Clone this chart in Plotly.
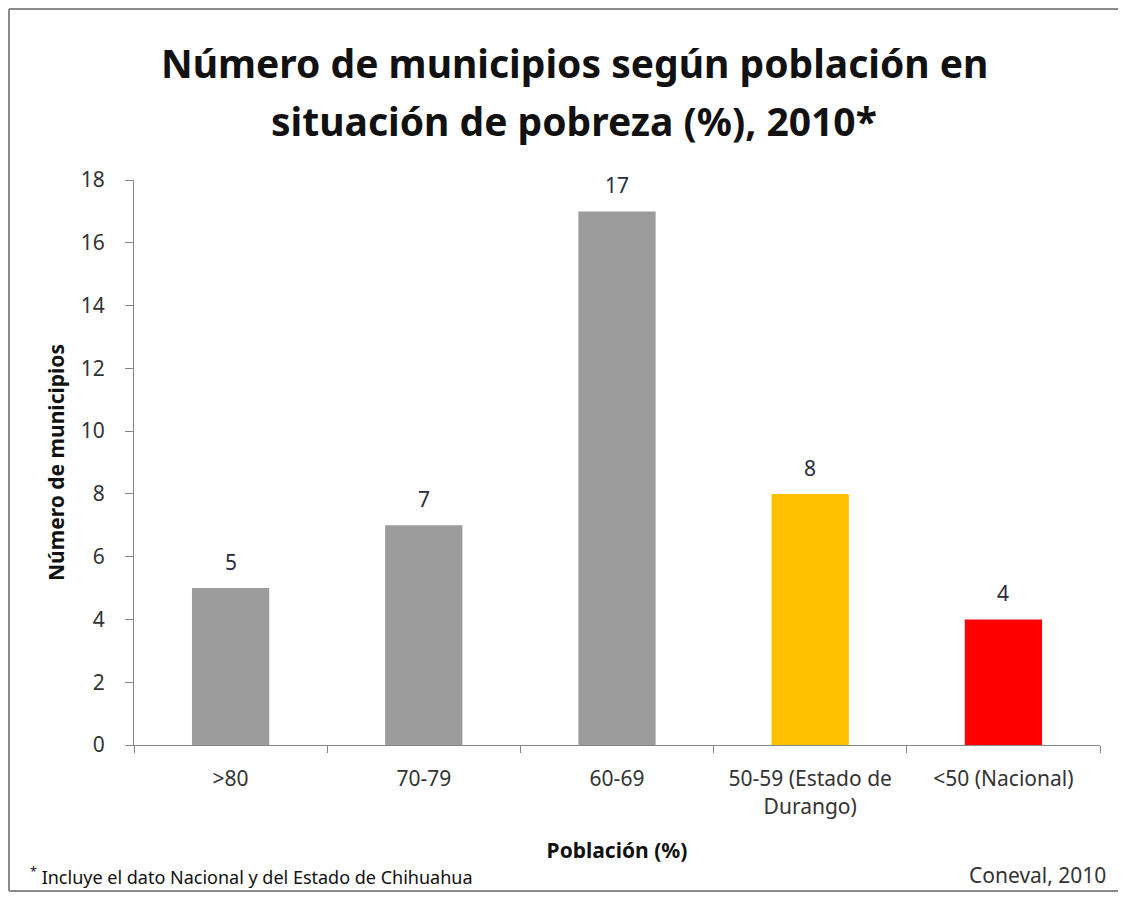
import plotly.graph_objects as go

categories = [">80", "70-79", "60-69", "50-59 (Estado de<br>Durango)", "<50 (Nacional)"]
values = [5, 7, 17, 8, 4]
colors = ["#9c9c9c", "#9c9c9c", "#9c9c9c", "#ffc000", "#ff0000"]
y_ticks = [0, 2, 4, 6, 8, 10, 12, 14, 16, 18]
title_lines = ["Número de municipios según población en", "situación de pobreza (%), 2010*"]

FONT = "Noto Sans"

# figure is placed at page offset (8, 8) by the body margin
W, H = 1110, 884
L, R, T, B = 126, 18, 172, 147
pw, ph = W - L - R, H - T - B


def px_x(p):
    return (p - L) / pw


def px_y(p):
    return (H - B - p) / ph


fig = go.Figure()
fig.add_trace(go.Bar(
    x=categories, y=values,
    marker=dict(color=colors, line=dict(width=0)),
    showlegend=False,
))

# value labels above bars
for c, v in zip(categories, values):
    fig.add_annotation(
        x=c, y=v, text=str(v), showarrow=False,
        xanchor="center", yanchor="middle", yshift=26,
        font=dict(family=FONT, size=21, color="#2b2b3b"),
    )

fig.update_layout(
    width=W, height=H,
    margin=dict(l=L, r=R, t=T, b=B),
    paper_bgcolor="white", plot_bgcolor="white",
    bargap=0.6,
    xaxis=dict(
        showline=True, linecolor="#868686", linewidth=1,
        ticks="outside", tickson="boundaries", ticklen=7, tickcolor="#868686",
        ticklabelstandoff=15,
        tickfont=dict(family=FONT, size=21, color="#333333"),
        title=dict(text="Población (%)", font=dict(family=FONT, size=21, color="#111111", weight="bold"), standoff=24),
        showgrid=False,
    ),
    yaxis=dict(
        range=[0, 18], tickvals=y_ticks,
        showline=True, linecolor="#868686", linewidth=1,
        ticks="outside", ticklen=8, tickcolor="#868686",
        ticklabelstandoff=16,
        tickfont=dict(family=FONT, size=21, color="#333333"),
        title=dict(text="Número de municipios", font=dict(family=FONT, size=21, color="#111111", weight="bold"), standoff=10),
        showgrid=False, zeroline=False,
    ),
)

# title as two lines
for line, ypx in zip(title_lines, [54, 112]):
    fig.add_annotation(
        text=line, xref="paper", yref="paper", x=px_x(566), y=px_y(ypx),
        xanchor="center", yanchor="middle", showarrow=False,
        font=dict(family=FONT, size=39, color="#111111", weight="bold"),
    )

# outer frame (top, left, bottom)
frame = dict(color="#8a8a8a", width=2)
fig.add_shape(type="line", xref="paper", yref="paper", x0=px_x(1), x1=px_x(W), y0=px_y(1), y1=px_y(1), line=frame)
fig.add_shape(type="line", xref="paper", yref="paper", x0=px_x(1), x1=px_x(1), y0=px_y(1), y1=px_y(H - 1), line=frame)
fig.add_shape(type="line", xref="paper", yref="paper", x0=px_x(1), x1=px_x(W), y0=px_y(H - 1), y1=px_y(H - 1), line=frame)

fig.add_annotation(
    text="<sup>*</sup> Incluye el dato Nacional y del Estado de Chihuahua",
    xref="paper", yref="paper", x=px_x(20), y=px_y(868),
    xanchor="left", yanchor="middle", showarrow=False,
    font=dict(family=FONT, size=18, color="#111111"),
)
fig.add_annotation(
    text="Coneval, 2010",
    xref="paper", yref="paper", x=px_x(1100), y=px_y(867),
    xanchor="right", yanchor="middle", showarrow=False,
    font=dict(family=FONT, size=21, color="#333333"),
)

fig.write_html("out.html")
